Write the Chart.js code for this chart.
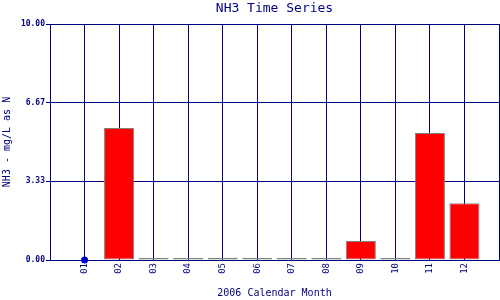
<!DOCTYPE html>
<html>
<head>
<meta charset="utf-8">
<script src="https://cdn.jsdelivr.net/npm/chart.js@4"></script>
<style>
  html, body { margin: 0; padding: 0; background: #fff; }
  canvas { display: block; }
</style>
</head>
<body>
<canvas id="chart" width="500" height="300"></canvas>
<script>
// Data
const months = ['01', '02', '03', '04', '05', '06', '07', '08', '09', '10', '11', '12'];
const nh3Values = [null, 5.59, 0, 0, 0.1, 0, 0, 0, 0.80, 0, 5.38, 2.40];
const markerValues = [0, null, null, null, null, null, null, null, null, null, null, null];
const yTicks = [0, 10 / 3, 20 / 3, 10];

const navy = '#000080';
const mono = "'DejaVu Sans Mono', 'Liberation Mono', monospace";

const barData = nh3Values.map((v, i) => ({ x: i + 1, y: v }));
const markerData = markerValues.map((v, i) => ({ x: i + 1, y: v })).filter(p => p.y !== null);

const ctx = document.getElementById('chart').getContext('2d');
new Chart(ctx, {
  type: 'bar',
  data: {
    datasets: [
      {
        type: 'scatter',
        data: markerData,
        xAxisID: 'x',
        pointRadius: 3.5,
        pointBackgroundColor: '#0000cc',
        pointBorderColor: '#0000cc',
        pointBorderWidth: 0,
        clip: false,
        order: 0
      },
      {
        data: barData,
        xAxisID: 'x',
        backgroundColor: '#ff0000',
        borderColor: '#808080',
        borderWidth: 1,
        borderSkipped: false,
        minBarLength: 2,
        barPercentage: 0.87,
        categoryPercentage: 1,
        order: 1
      }
    ]
  },
  options: {
    responsive: false,
    animation: false,
    layout: { autoPadding: false, padding: { left: 0, right: 1, top: 0, bottom: 0 } },
    plugins: {
      legend: { display: false },
      tooltip: { enabled: false },
      title: { display: false }
    },
    scales: {
      x: {
        type: 'linear',
        min: 0,
        max: 13,
        offset: false,
        afterBuildTicks: axis => {
          axis.ticks = [];
          for (let i = 0; i <= months.length + 1; i++) axis.ticks.push({ value: i });
        },
        afterFit: axis => {
          axis.height = 40;
          axis.paddingLeft = 0;
          axis.paddingRight = 0;
        },
        ticks: {
          color: navy,
          font: { family: mono, size: 9 },
          padding: 3,
          minRotation: 90,
          maxRotation: 90,
          autoSkip: false,
          callback: v => months[v - 1] || ''
        },
        grid: { color: navy, lineWidth: 1, drawTicks: false, offset: false },
        border: { color: navy, width: 1 },
        title: {
          display: true,
          text: '2006 Calendar Month',
          color: navy,
          font: { family: mono, size: 10 },
          padding: 1
        }
      },
      // chart title, centred over the plot area
      xTop: {
        type: 'linear',
        axis: 'x',
        position: 'top',
        min: 0,
        max: 13,
        afterFit: axis => {
          axis.height = 24;
          axis.paddingLeft = 0;
          axis.paddingRight = 0;
        },
        ticks: { display: false },
        grid: { display: false, drawTicks: false },
        border: { display: false },
        title: {
          display: true,
          text: 'NH3 Time Series',
          color: navy,
          font: { family: mono, size: 13 },
          padding: 1
        }
      },
      y: {
        min: 0,
        max: 10,
        afterBuildTicks: axis => { axis.ticks = yTicks.map(v => ({ value: v })); },
        afterFit: axis => {
          axis.width = 50;
          axis.paddingTop = 0;
          axis.paddingBottom = 0;
        },
        ticks: {
          color: navy,
          font: { family: mono, size: 8, weight: 'bold' },
          padding: 1,
          callback: v => v.toFixed(2)
        },
        grid: { color: navy, lineWidth: 1, tickLength: 4 },
        border: { color: navy, width: 1 },
        title: {
          display: true,
          text: 'NH3 - mg/L as N',
          color: navy,
          font: { family: mono, size: 10 },
          padding: 1
        }
      }
    }
  }
});
</script>
</body>
</html>
